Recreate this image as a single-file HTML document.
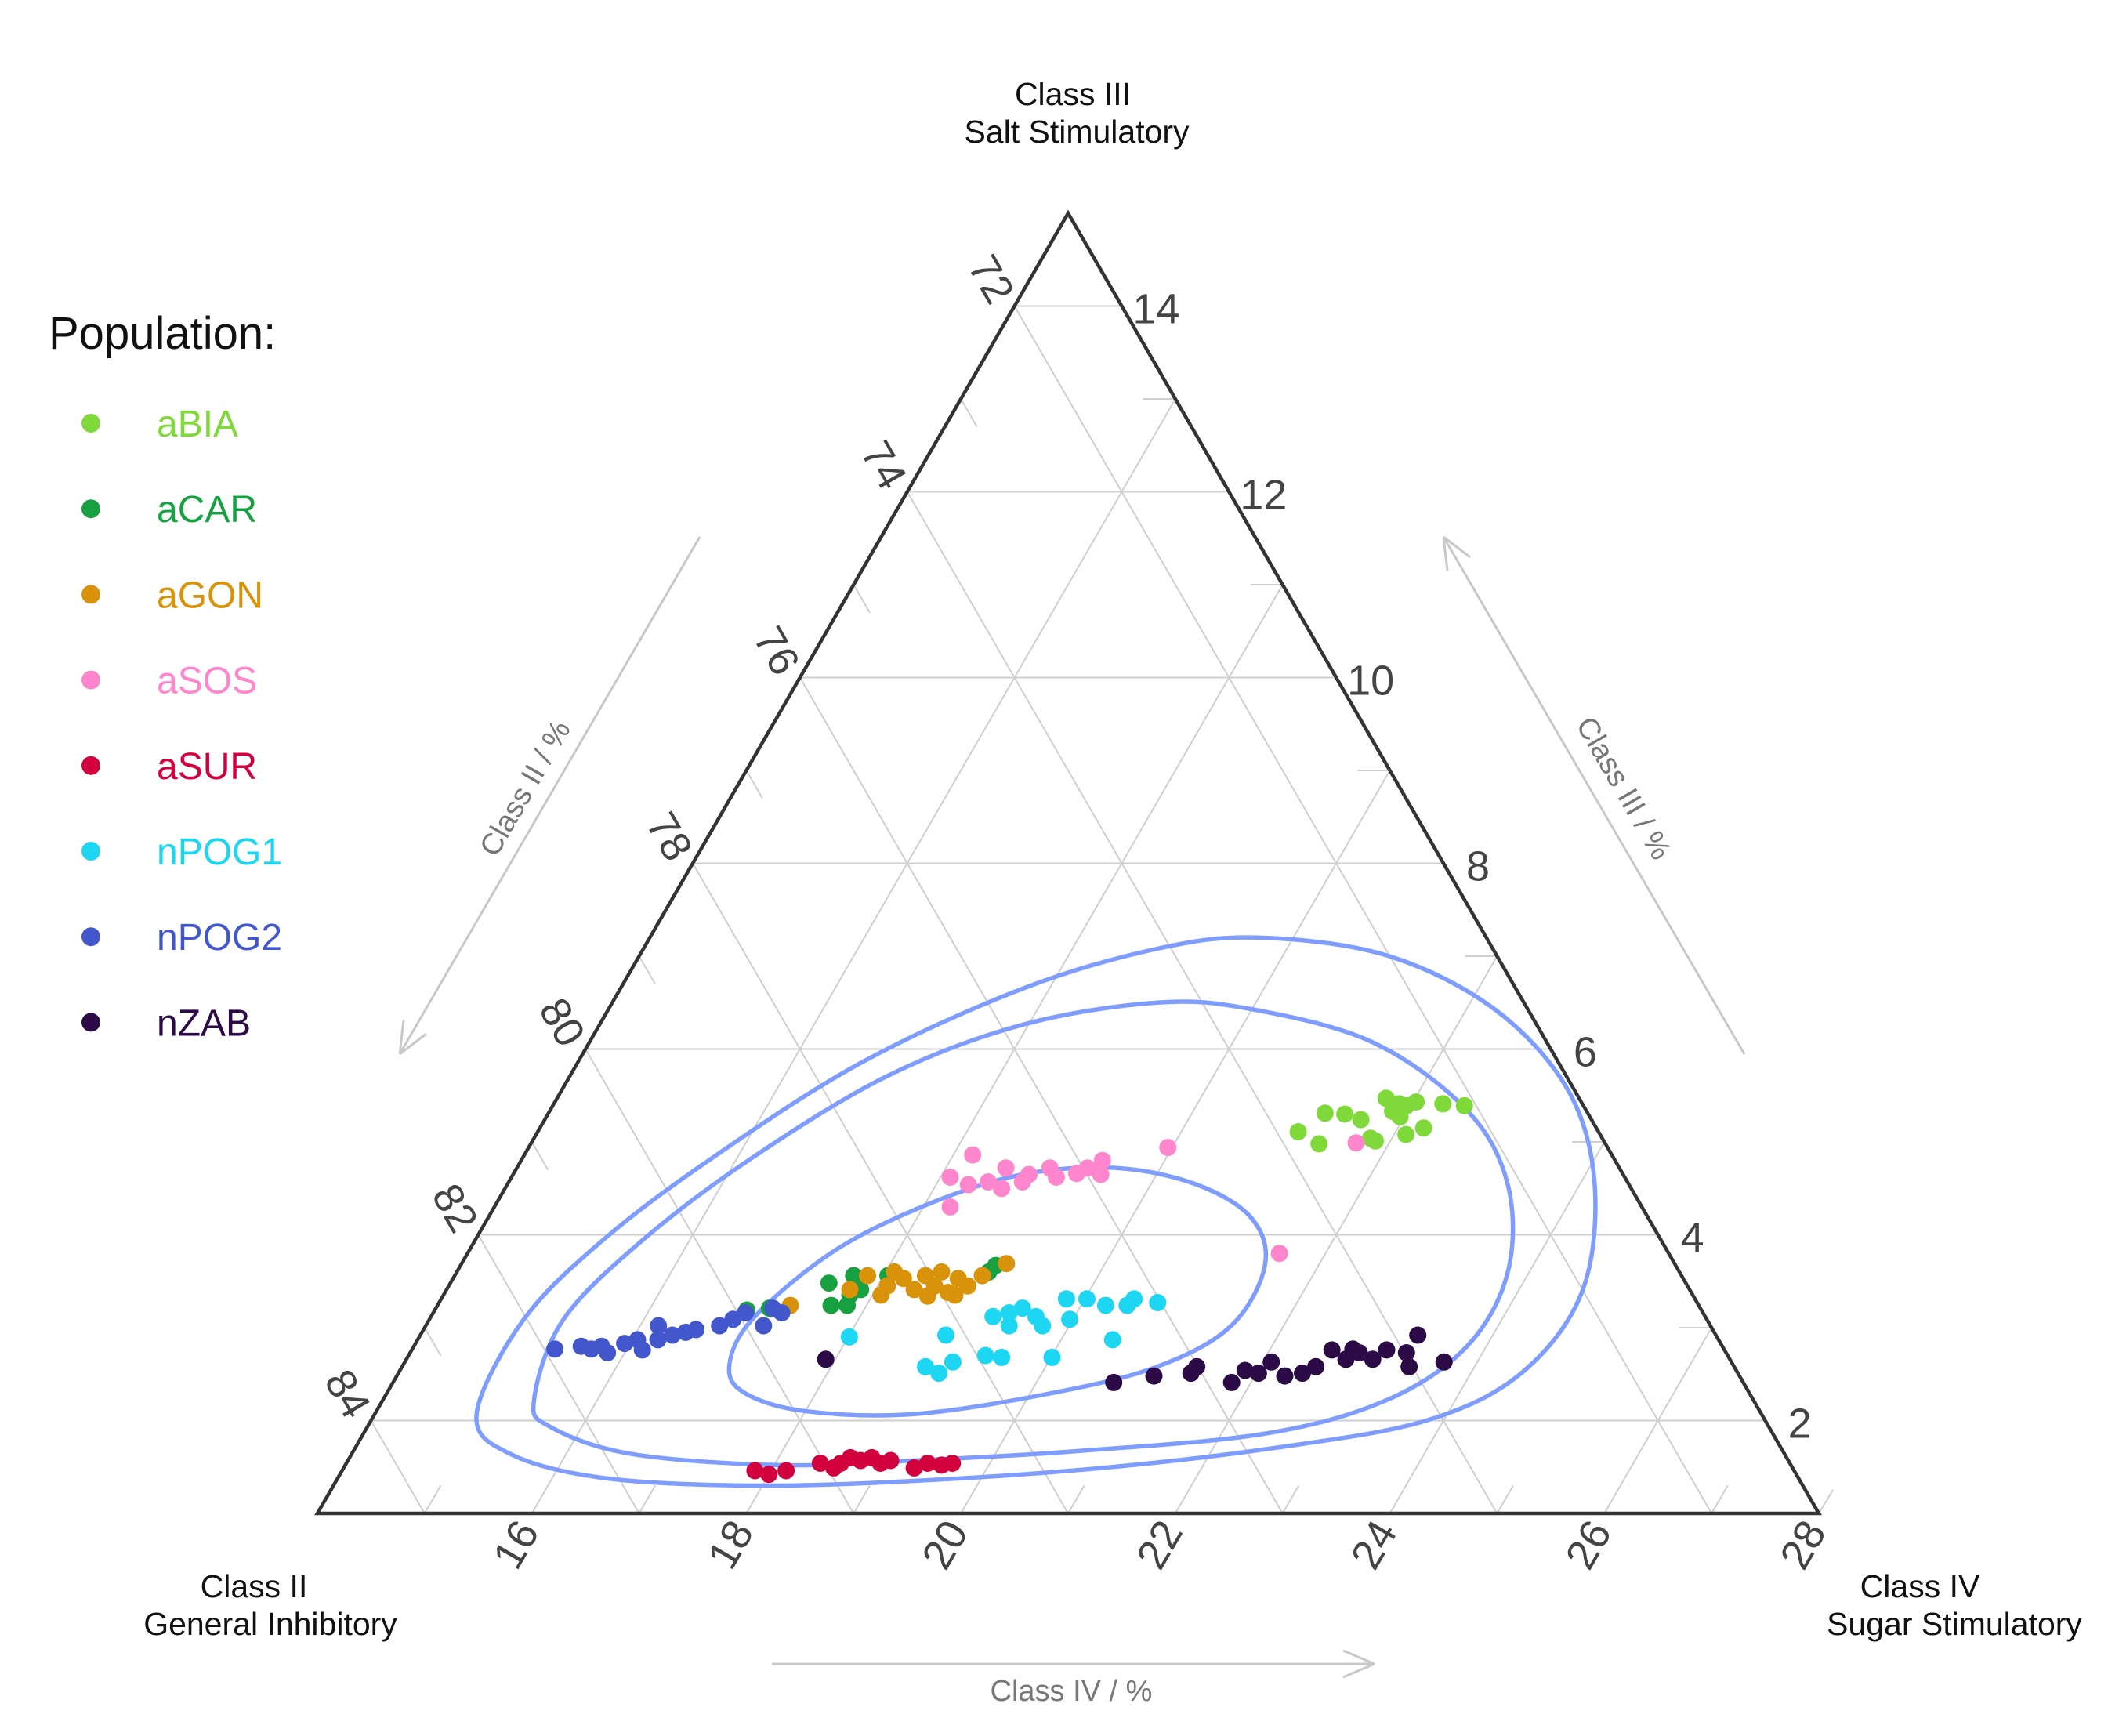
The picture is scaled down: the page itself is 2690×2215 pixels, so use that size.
<!DOCTYPE html>
<html><head><meta charset="utf-8"><style>
html,body{margin:0;padding:0;background:#fff;}
svg{display:block;font-family:"Liberation Sans",Arial,sans-serif;}
</style></head><body>
<svg id="chart" width="2690" height="2215" viewBox="0 0 2690 2215" xmlns="http://www.w3.org/2000/svg">
<g id="grid"></g>
<g id="contours"></g>
<g id="points"></g>
<g id="frame"></g>
<g id="ticks"></g>
<g font-size="41" fill="#111" text-anchor="middle">
  <text x="1369" y="134">Class III</text>
  <text x="1374" y="182">Salt Stimulatory</text>
  <text x="324" y="2038">Class II</text>
  <text x="345" y="2086">General Inhibitory</text>
  <text x="2450" y="2038">Class IV</text>
  <text x="2494" y="2086">Sugar Stimulatory</text>
</g>
<g stroke="#c8c8c8" stroke-width="3" fill="none">
  <path d="M985 2123 L1754 2123 M1754 2123 L1714 2106 M1754 2123 L1714 2140"/>
  <path d="M893 685 L510 1345 M510 1345 L515 1302 M510 1345 L544 1319"/>
  <path d="M2226 1345 L1842 685 M1842 685 L1876 711 M1842 685 L1847 728"/>
</g>
<g font-size="38" fill="#777" text-anchor="middle">
  <text x="1367" y="2170">Class IV / %</text>
  <text transform="translate(681,1012) rotate(-60)">Class II / %</text>
  <text transform="translate(2061,1012) rotate(60)">Class III / %</text>
</g>
<g id="legend">
  <text x="62" y="445" font-size="58" fill="#111">Population:</text>
</g>
</svg>
<script>
// ---- data (Class IV %, Class III %) ----
const groups = ["aBIA","aCAR","aGON","aSOS","aSUR","nPOG1","nPOG2","nZAB"];
const colors = ["#80d93a","#17a040","#d9930a","#ff85cc","#d2003c","#1cd6f2","#4357cc","#2b0a45"];
const aBIA_iv  = [21.09,21.35,21.24,21.43,21.61,21.86,21.73,21.86,21.96,21.96,22.03,22.11,22.24,22.29,22.50,21.80,21.88];
const aBIA_iii = [5.11,4.98,5.31,5.30,5.24,5.01,5.47,5.33,5.27,5.39,5.43,5.08,5.15,5.41,5.39,5.04,5.41];
const aCAR_iv  = [17.53,17.67,17.79,17.72,17.86,18.04,16.91,17.11,18.99,18.96,17.82];
const aCAR_iii = [3.48,3.24,3.35,3.56,3.41,3.56,3.19,3.21,3.67,3.60,3.24];
const aGON_iv  = [17.85,18.08,18.09,18.20,18.36,18.39,18.53,18.52,18.69,18.71,18.84,18.92,19.08,17.29,17.76,18.08,18.52,18.77];
const aGON_iii = [3.56,3.35,3.45,3.53,3.41,3.56,3.45,3.60,3.38,3.53,3.45,3.56,3.69,3.24,3.41,3.60,3.34,3.35];
const aSOS_iv  = [18.18,18.09,18.30,18.47,18.63,18.56,18.79,18.81,18.97,19.08,19.25,19.32,19.42,19.48,18.25,19.96,21.57,21.69];
const aSOS_iii = [4.86,4.62,4.54,4.57,4.50,4.72,4.57,4.65,4.72,4.62,4.66,4.72,4.80,4.65,4.30,4.94,3.80,4.99];
const aSUR_iv  = [17.85,18.00,18.14,18.42,18.61,18.67,18.78,18.87,18.98,19.06,19.32,19.42,19.56,19.65,18.57];
const aSUR_iii = [1.46,1.42,1.46,1.54,1.54,1.60,1.57,1.60,1.54,1.57,1.49,1.54,1.52,1.54,1.49];
const nPOG1_iv  = [18.01,18.90,18.88,19.04,19.11,19.38,19.54,20.01,20.48,19.24,19.37,19.47,19.64,19.75,19.83,19.97,20.02,20.23,20.43,20.46,20.70,19.44];
const nPOG1_iii = [2.90,2.92,2.58,2.51,2.63,2.70,2.68,2.68,2.87,3.12,3.16,3.21,3.12,3.02,3.31,3.09,3.31,3.24,3.24,3.31,3.27,3.02];
const nPOG2_iv  = [15.33,15.56,15.67,15.84,15.95,16.05,16.15,16.17,16.24,16.35,16.46,16.54,16.74,16.83,16.91,17.15,17.14,17.25,15.75];
const nPOG2_iii = [2.77,2.80,2.77,2.73,2.83,2.87,2.76,3.02,2.87,2.92,2.95,2.98,3.02,3.09,3.16,3.02,3.21,3.16,2.80];
const nZAB_iv  = [17.91,20.72,21.06,21.39,21.41,21.82,21.88,22.02,22.08,22.28,22.43,22.52,22.58,22.76,22.85,23.01,23.09,23.29,23.30,23.39,23.69,22.77];
const nZAB_iii = [2.66,2.41,2.48,2.51,2.58,2.41,2.54,2.51,2.63,2.48,2.51,2.58,2.76,2.66,2.73,2.66,2.76,2.73,2.92,2.58,2.63,2.77];
const ivData  = [aBIA_iv,aCAR_iv,aGON_iv,aSOS_iv,aSUR_iv,nPOG1_iv,nPOG2_iv,nZAB_iv];
const iiiData = [aBIA_iii,aCAR_iii,aGON_iii,aSOS_iii,aSUR_iii,nPOG1_iii,nPOG2_iii,nZAB_iii];
// contour levels (Class IV %, Class III %)
const outer_iv  = [14.95,14.88,15.20,15.77,16.64,17.75,18.79,19.67,20.96,22.26,23.38,24.14,24.60,24.47,23.84,22.60,21.08,19.39,17.91,16.49,15.48];
const outer_iii = [2.07,3.09,3.96,4.83,5.85,6.65,7.08,7.20,7.01,6.43,5.56,4.54,3.38,2.51,2.00,1.71,1.49,1.35,1.30,1.38,1.64];
const middle_iv  = [15.41,15.25,15.57,16.14,16.96,17.94,19.08,19.99,21.31,22.55,23.33,23.80,23.82,23.36,22.41,20.74,19.28,18.05,16.61,15.71];
const middle_iii = [2.22,3.09,3.96,4.83,5.71,6.26,6.50,6.43,6.07,5.34,4.54,3.60,2.80,2.22,1.86,1.67,1.57,1.52,1.64,1.93];
const inner_iv  = [17.05,17.01,17.40,18.03,18.75,19.59,20.43,21.12,21.50,21.51,21.04,20.18,19.03,18.01,17.35];
const inner_iii = [2.58,3.09,3.82,4.33,4.65,4.72,4.54,4.18,3.67,3.02,2.58,2.29,2.07,2.10,2.29];
const iiTicks  = [72,74,76,78,80,82,84];
const iiiTicks = [2,4,6,8,10,12,14];
const ivTicks  = [16,18,20,22,24,26,28];

// ---- axes ----
const NS = "http://www.w3.org/2000/svg";
const L = {x:405,y:1931}, R = {x:2321,y:1931}, T = {x:1363,y:272};
const IV0 = 14, III0 = 1, SPAN = 14;
function toXY(iv, iii){
  const b = (iv-IV0)/SPAN, c = (iii-III0)/SPAN;
  return [L.x + b*(R.x-L.x) + c*(T.x-L.x), L.y - c*(L.y-T.y)];
}
function mk(tag, attrs, parent){
  const e = document.createElementNS(NS, tag);
  for (const k in attrs) e.setAttribute(k, attrs[k]);
  parent.appendChild(e); return e;
}
const grid = document.getElementById('grid');
function gline(p, q, name){
  const e = mk('line',{x1:p[0],y1:p[1],x2:q[0],y2:q[1],stroke:'#cfcfcf','stroke-width':2},grid);
  
  
}
for (let v=15; v<=28; v++){
  const major = v%2===0;
  const w = v-13;
  if (w>=2 && w<=14){
    if (w%2===0) gline(toXY(IV0,w), toXY(29-w,w), 'grid-class-iii');
    else { gline(toXY(29-w,w), toXY(29-w-0.3,w), 'minor-tick-class-iii'); }
  }
  if (v<28){
    if (major) gline(toXY(v,III0), toXY(v,29-v), 'grid-class-iv');
    else gline(toXY(v,III0), toXY(v,III0+0.3), 'minor-tick-class-iv');
  }
}
for (let u=72; u<=84; u++){
  if (u%2===0) gline(toXY(IV0,86-u), toXY(99-u,III0), 'grid-class-ii');
  else gline(toXY(IV0,86-u), toXY(IV0+0.3,86-u-0.3), 'minor-tick-class-ii');
}
gline(toXY(28,1), [toXY(28,1)[0]+18,toXY(28,1)[1]-30], 'tick-class-iv-28');

// ---- contours ----
const cg = document.getElementById('contours');
function closedSpline(xs, ys){
  const P = xs.map((v,i)=>toXY(v, ys[i])); const n = P.length;
  let d = `M${P[0][0].toFixed(1)},${P[0][1].toFixed(1)}`;
  for (let i=0;i<n;i++){
    const p0=P[(i-1+n)%n], p1=P[i], p2=P[(i+1)%n], p3=P[(i+2)%n];
    const c1=[p1[0]+(p2[0]-p0[0])/6, p1[1]+(p2[1]-p0[1])/6];
    const c2=[p2[0]-(p3[0]-p1[0])/6, p2[1]-(p3[1]-p1[1])/6];
    d += ` C${c1[0].toFixed(1)},${c1[1].toFixed(1)} ${c2[0].toFixed(1)},${c2[1].toFixed(1)} ${p2[0].toFixed(1)},${p2[1].toFixed(1)}`;
  }
  return d+'Z';
}
[[outer_iv,outer_iii,'contour-outer'],[middle_iv,middle_iii,'contour-middle'],[inner_iv,inner_iii,'contour-inner']].forEach(c=>{
  const e = mk('path',{d:closedSpline(c[0],c[1]),fill:'none',stroke:'#7f9dff','stroke-width':5.5},cg);
  
  
});

// ---- points ----
const pg = document.getElementById('points');
groups.forEach((g,gi)=>{
  ivData[gi].forEach((v,i)=>{
    const p = toXY(v, iiiData[gi][i]);
    const e = mk('circle',{cx:p[0].toFixed(1),cy:p[1].toFixed(1),r:11,fill:colors[gi]},pg);
    
    
  });
});

// ---- frame ----
const fr = mk('path',{d:`M${L.x},${L.y} L${T.x},${T.y} L${R.x},${R.y} Z`,fill:'none',stroke:'#333','stroke-width':4.5,'stroke-linejoin':'miter'},document.getElementById('frame'));



// ---- tick labels ----
const tg = document.getElementById('ticks');
function tlabel(txt, x, y, rot, name){
  const e = mk('text',{x:0,y:0,'font-size':54,fill:'#444','text-anchor':'middle','dominant-baseline':'central',transform:`translate(${x.toFixed(1)},${y.toFixed(1)}) rotate(${rot})`},tg);
  e.textContent = txt;
  
  
}
iiTicks.forEach(u=>{ const p=toXY(IV0,86-u); tlabel(String(u), p[0]-30, p[1]-34, 60, 'tick-label-class-ii'); });
iiiTicks.forEach(w=>{ const p=toXY(29-w,w); tlabel(String(w), p[0]+44, p[1]+4, 0, 'tick-label-class-iii'); });
ivTicks.forEach(v=>{ const p=toXY(v,III0); tlabel(String(v), p[0]-20, p[1]+40, -60, 'tick-label-class-iv'); });

// ---- legend ----
const lg = document.getElementById('legend');
groups.forEach((g,i)=>{
  const y = 540 + i*109.2;
  const c = mk('circle',{cx:116,cy:y,r:12,fill:colors[i]},lg);
  
  
  const t = mk('text',{x:200,y:y+17,'font-size':48,fill:colors[i]},lg);
  t.textContent = g;
  
  
});
</script>
</body></html>
